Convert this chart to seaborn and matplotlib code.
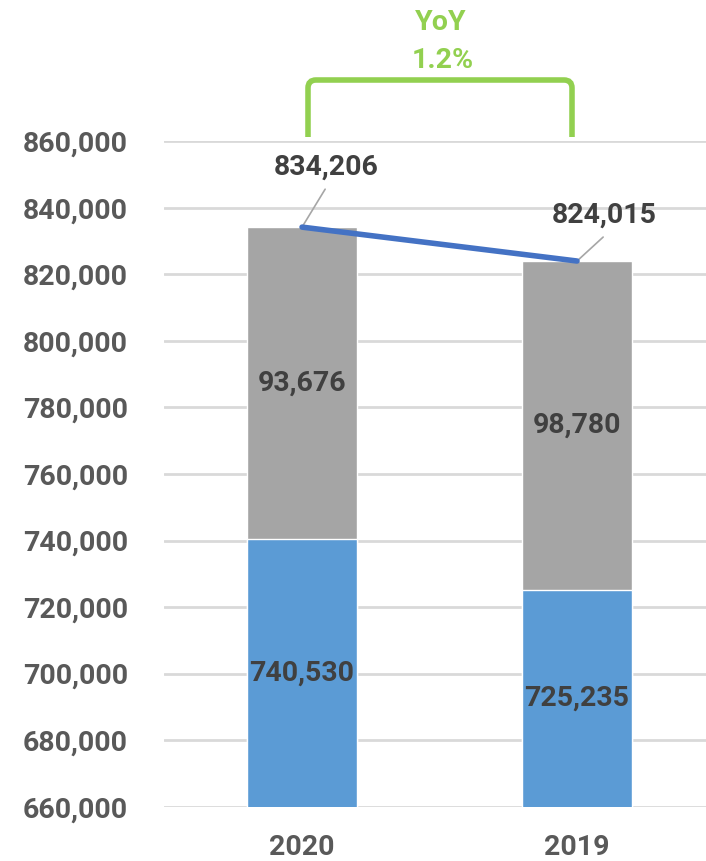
import matplotlib
matplotlib.use("Agg")
import matplotlib.pyplot as plt
import seaborn as sns
import pandas as pd
import numpy as np
from matplotlib.path import Path
from matplotlib.patches import PathPatch

years = ["2020", "2019"]
base_vals = [740530, 725235]
top_vals = [93676, 98780]
totals = [834206, 824015]
yoy_label = "YoY"
yoy_value = "1.2%"

sns.set_theme(style="white")
plt.rcParams['font.family'] = ['Roboto', 'DejaVu Sans']

df = pd.DataFrame({"year": years, "base": base_vals, "top": top_vals, "total": totals})

fig = plt.figure(figsize=(7.06, 8.61), dpi=100)
ax = fig.add_axes([164/706, (861-806.7)/861, 1-164/706, (806.7-141.3)/861])

BLUE = "#5B9BD5"
GRAY = "#A5A5A5"
LINE = "#4472C4"
GREEN = "#92D050"
TXT = "#404040"
TICK = "#595959"

sns.barplot(data=df, x="year", y="total", color=GRAY, width=0.4, saturation=1, ax=ax, zorder=2)
sns.barplot(data=df, x="year", y="base", color=BLUE, width=0.4, saturation=1, ax=ax, zorder=3)

xs = np.arange(len(years))
ax.plot(xs, totals, color=LINE, lw=4, solid_capstyle="round", zorder=5)

ymin, ymax = 660000, 860000
ax.set_ylim(ymin, ymax)
ax.set_xlim(-0.502, 1.469)
ax.set_yticks(np.arange(ymin, ymax + 1, 20000))
ax.yaxis.set_major_formatter(matplotlib.ticker.FuncFormatter(lambda v, p: f"{int(v):,}"))
ax.grid(axis="y", color="#D9D9D9", lw=2, zorder=0)
ax.set_axisbelow(True)
for s in ax.spines.values():
    s.set_visible(False)
fs = 20.5
ax.tick_params(axis="y", length=0, pad=26, labelsize=fs, labelcolor=TICK)
ax.tick_params(axis="x", length=0, pad=20, labelsize=fs, labelcolor=TICK)
for lab in ax.get_yticklabels() + ax.get_xticklabels():
    lab.set_fontweight("bold")
ax.set_xlabel("")
ax.set_ylabel("")

for i in range(len(years)):
    ax.text(i, (ymin + base_vals[i]) / 2, f"{base_vals[i]:,}", ha="center", va="center",
            fontsize=fs, fontweight="bold", color=TXT, zorder=6)
    ax.text(i, base_vals[i] + top_vals[i] / 2, f"{top_vals[i]:,}", ha="center", va="center",
            fontsize=fs, fontweight="bold", color=TXT, zorder=6)

# total labels with leader lines
label_off = [(0.087, 18000), (0.10, 13800)]
leader_off = [(0.084, 11400), (0.095, 7200)]
for i in range(len(years)):
    dx, dy = label_off[i]
    ax.text(i + dx, totals[i] + dy, f"{totals[i]:,}", ha="center", va="center",
            fontsize=fs, fontweight="bold", color=TXT, zorder=6)
    lx, ly = leader_off[i]
    ax.plot([i, i + lx], [totals[i], totals[i] + ly], color="#A6A6A6", lw=1.2, zorder=4)

# YoY bracket in figure pixel coords
def px(x, y):
    return (x / 706, (861 - y) / 861)

xl, xr, ytop, ybot, r = 308, 572, 80, 137, 8
verts = [px(xl, ybot), px(xl, ytop + r), px(xl, ytop), px(xl + r, ytop),
         px(xr - r, ytop), px(xr, ytop), px(xr, ytop + r), px(xr, ybot)]
codes = [Path.MOVETO, Path.LINETO, Path.CURVE3, Path.CURVE3,
         Path.LINETO, Path.CURVE3, Path.CURVE3, Path.LINETO]
fig.patches.append(PathPatch(Path(verts, codes), transform=fig.transFigure, fill=False,
                             edgecolor=GREEN, lw=4, capstyle="butt"))
fig.text(*px(441, 22), yoy_label, ha="center", va="center", fontsize=fs, fontweight="bold", color=GREEN)
fig.text(*px(443, 60), yoy_value, ha="center", va="center", fontsize=fs, fontweight="bold", color=GREEN)

fig.savefig("out.png", dpi=100)
